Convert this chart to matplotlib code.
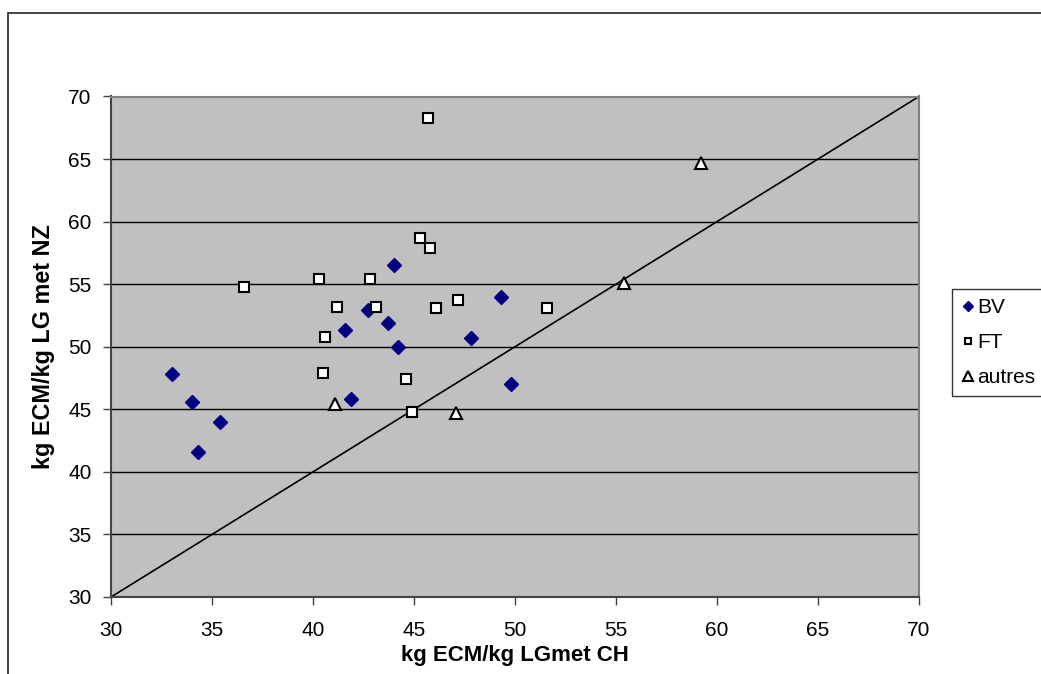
import matplotlib.pyplot as plt
from matplotlib.patches import Rectangle

plt.rcParams['font.family'] = ['Liberation Sans', 'DejaVu Sans']

# BV (diamonds)
bv_x = [33.0, 34.0, 35.4, 34.3, 41.6, 41.9, 42.7, 43.7, 44.2, 47.8, 49.3, 49.8, 44.0]
bv_y = [47.8, 45.6, 44.0, 41.6, 51.3, 45.8, 52.9, 51.9, 50.0, 50.7, 54.0, 47.0, 56.5]

# FT (squares)
ft_x = [45.7, 36.6, 40.3, 42.8, 41.2, 43.1, 45.3, 45.8, 46.1, 47.2, 40.6, 40.5, 44.6, 44.9, 51.6]
ft_y = [68.3, 54.8, 55.4, 55.4, 53.2, 53.2, 58.7, 57.9, 53.1, 53.7, 50.8, 47.9, 47.4, 44.8, 53.1]

# autres (triangles)
au_x = [41.1, 47.1, 55.4, 59.2]
au_y = [45.4, 44.7, 55.1, 64.7]

diag = [30, 70]

W, H = 1041, 674
fig = plt.figure(figsize=(W / 100, H / 100), dpi=100)
fig.patches.append(Rectangle((8 / W, -0.1), 1.2, 1 - 13 / H + 0.1,
                             transform=fig.transFigure, fill=False,
                             edgecolor='#222222', linewidth=1.2))

ax = fig.add_axes([111 / W, 1 - 597 / H, 808 / W, 500.5 / H])
ax.set_facecolor('#C0C0C0')
ax.set_xlim(30, 70)
ax.set_ylim(30, 70)
ax.set_xticks(range(30, 71, 5))
ax.set_yticks(range(30, 71, 5))
ax.yaxis.grid(True, color='black', linewidth=1.0)
ax.set_axisbelow(True)

ax.plot(diag, diag, color='black', linewidth=1.2, zorder=2)
ax.plot(bv_x, bv_y, linestyle='none', marker='D', markersize=7,
        color='#000080', label='BV', zorder=3)
ax.plot(ft_x, ft_y, linestyle='none', marker='s', markersize=7,
        markerfacecolor='white', markeredgecolor='black', markeredgewidth=1.5,
        label='FT', zorder=3)
ax.plot(au_x, au_y, linestyle='none', marker='^', markersize=8,
        markerfacecolor='white', markeredgecolor='black', markeredgewidth=1.5,
        label='autres', zorder=3)

for s in ['left', 'bottom']:
    ax.spines[s].set_color('#444444')
    ax.spines[s].set_linewidth(1.5)
for s in ['right', 'top']:
    ax.spines[s].set_color('#808080')
    ax.spines[s].set_linewidth(1.5)

ax.tick_params(direction='out', length=6, width=1, color='#444444', labelsize=15)
ax.tick_params(axis='x', pad=11)
ax.tick_params(axis='y', pad=8)
ax.set_xlabel('kg ECM/kg LGmet CH', fontsize=16, fontweight='bold')
ax.set_ylabel('kg ECM/kg LG met NZ', fontsize=16.8, fontweight='bold')
ax.xaxis.set_label_coords(0.5, -(645 - 597) / 500.5)
ax.yaxis.set_label_coords(-(111 - 55) / 808, 0.5)

leg = fig.legend(loc='upper left', bbox_to_anchor=(952 / W, 1 - 289 / H),
                 fontsize=15, frameon=True, fancybox=False, edgecolor='black',
                 handlelength=0.6, handletextpad=0.15,
                 borderpad=0.45, labelspacing=0.76, borderaxespad=0)
leg.get_frame().set_linewidth(1.0)
for h, ms in zip(leg.legend_handles, [5.5, 4.5, 7]):
    h.set_markersize(ms)

fig.savefig('out.png', dpi=100)
